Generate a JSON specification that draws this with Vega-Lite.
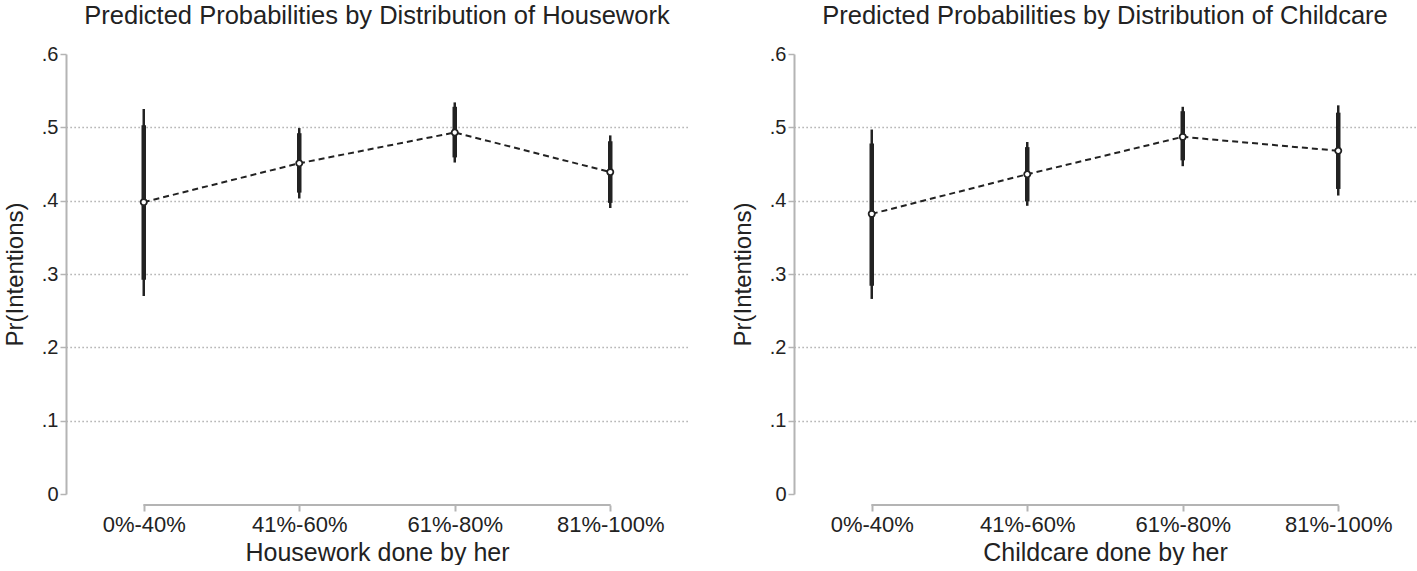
{
  "$schema": "https://vega.github.io/schema/vega-lite/v6.json",
  "padding": {"left": 3, "top": 3, "right": 0, "bottom": 0},
  "spacing": 43,
  "background": "white",
  "config": {
    "font": "Liberation Sans",
    "view": {"stroke": null},
    "axis": {"labelColor": "#222222", "titleColor": "#222222", "titleFontWeight": "normal", "labelFont": "Liberation Sans", "titleFont": "Liberation Sans"}
  },
  "datasets": {
    "housework": [
      {"cat": "0%-40%", "est": 0.398, "lo95": 0.270, "hi95": 0.525, "lo90": 0.292, "hi90": 0.503},
      {"cat": "41%-60%", "est": 0.451, "lo95": 0.403, "hi95": 0.499, "lo90": 0.411, "hi90": 0.492},
      {"cat": "61%-80%", "est": 0.493, "lo95": 0.452, "hi95": 0.534, "lo90": 0.459, "hi90": 0.528},
      {"cat": "81%-100%", "est": 0.439, "lo95": 0.390, "hi95": 0.489, "lo90": 0.397, "hi90": 0.481}
    ],
    "childcare": [
      {"cat": "0%-40%", "est": 0.382, "lo95": 0.266, "hi95": 0.497, "lo90": 0.284, "hi90": 0.478},
      {"cat": "41%-60%", "est": 0.436, "lo95": 0.393, "hi95": 0.480, "lo90": 0.399, "hi90": 0.473},
      {"cat": "61%-80%", "est": 0.487, "lo95": 0.447, "hi95": 0.528, "lo90": 0.455, "hi90": 0.522},
      {"cat": "81%-100%", "est": 0.468, "lo95": 0.407, "hi95": 0.530, "lo90": 0.416, "hi90": 0.520}
    ]
  },
  "hconcat": [
    {
      "width": 622,
      "height": 440,
      "title": {"text": "Predicted Probabilities by Distribution of Housework", "fontSize": 25.5, "fontWeight": "normal", "color": "#222222", "frame": "group", "anchor": "middle", "offset": 15},
      "data": {"name": "housework"},
      "layer": [
        {
          "mark": {"type": "rule", "strokeWidth": 2.5, "color": "#222222"},
          "encoding": {
            "x": {"field": "cat", "type": "ordinal", "sort": null, "scale": {"type": "point", "padding": 0.5},
              "axis": {"title": "Housework done by her", "titleFontSize": 25, "titlePadding": 5, "labelFontSize": 22, "labelAngle": 0, "labelPadding": 3, "offset": 11, "domain": false, "ticks": true, "tickSize": 6, "tickWidth": 2, "tickColor": "#b4b4b4", "grid": false}},
            "y": {"field": "lo95", "type": "quantitative", "scale": {"domain": [0, 0.6], "nice": false, "zero": true},
              "axis": {"title": "Pr(Intentions)", "titleFontSize": 24, "titlePadding": 14, "labelFontSize": 20, "labelPadding": 2, "values": [0, 0.1, 0.2, 0.3, 0.4, 0.5, 0.6], "labelExpr": "datum.value == 0 ? '0' : replace(format(datum.value, '.1f'), '0.', '.')", "domainColor": "#b4b4b4", "domainWidth": 2, "tickColor": "#b4b4b4", "tickSize": 6, "tickWidth": 1.5, "grid": true, "gridColor": "#9a9a9a", "gridWidth": 1.3, "gridDash": [1.2, 2.8], "gridOpacity": {"condition": {"test": "datum.value == 0 || datum.value == 0.6", "value": 0}, "value": 1}}},
            "y2": {"field": "hi95"}
          }
        },
        {
          "mark": {"type": "rule", "strokeWidth": 4.5, "color": "#222222"},
          "encoding": {
            "x": {"field": "cat", "type": "ordinal", "sort": null},
            "y": {"field": "lo90", "type": "quantitative"},
            "y2": {"field": "hi90"}
          }
        },
        {
          "mark": {"type": "line", "strokeWidth": 2, "strokeDash": [6, 4], "color": "#222222"},
          "encoding": {
            "x": {"field": "cat", "type": "ordinal", "sort": null},
            "y": {"field": "est", "type": "quantitative"}
          }
        },
        {
          "mark": {"type": "point", "shape": "circle", "filled": true, "fill": "white", "stroke": "#222222", "strokeWidth": 1.8, "size": 38, "opacity": 1},
          "encoding": {
            "x": {"field": "cat", "type": "ordinal", "sort": null},
            "y": {"field": "est", "type": "quantitative"}
          }
        },
        {
          "mark": {"type": "rule", "strokeWidth": 2, "color": "#b4b4b4"},
          "encoding": {
            "x": {"datum": "0%-40%", "type": "ordinal"},
            "x2": {"datum": "81%-100%"},
            "y": {"datum": -0.015, "type": "quantitative"}
          }
        }
      ]
    },
    {
      "width": 622,
      "height": 440,
      "title": {"text": "Predicted Probabilities by Distribution of Childcare", "fontSize": 25.5, "fontWeight": "normal", "color": "#222222", "frame": "group", "anchor": "middle", "offset": 15},
      "data": {"name": "childcare"},
      "layer": [
        {
          "mark": {"type": "rule", "strokeWidth": 2.5, "color": "#222222"},
          "encoding": {
            "x": {"field": "cat", "type": "ordinal", "sort": null, "scale": {"type": "point", "padding": 0.5},
              "axis": {"title": "Childcare done by her", "titleFontSize": 25, "titlePadding": 5, "labelFontSize": 22, "labelAngle": 0, "labelPadding": 3, "offset": 11, "domain": false, "ticks": true, "tickSize": 6, "tickWidth": 2, "tickColor": "#b4b4b4", "grid": false}},
            "y": {"field": "lo95", "type": "quantitative", "scale": {"domain": [0, 0.6], "nice": false, "zero": true},
              "axis": {"title": "Pr(Intentions)", "titleFontSize": 24, "titlePadding": 14, "labelFontSize": 20, "labelPadding": 2, "values": [0, 0.1, 0.2, 0.3, 0.4, 0.5, 0.6], "labelExpr": "datum.value == 0 ? '0' : replace(format(datum.value, '.1f'), '0.', '.')", "domainColor": "#b4b4b4", "domainWidth": 2, "tickColor": "#b4b4b4", "tickSize": 6, "tickWidth": 1.5, "grid": true, "gridColor": "#9a9a9a", "gridWidth": 1.3, "gridDash": [1.2, 2.8], "gridOpacity": {"condition": {"test": "datum.value == 0 || datum.value == 0.6", "value": 0}, "value": 1}}},
            "y2": {"field": "hi95"}
          }
        },
        {
          "mark": {"type": "rule", "strokeWidth": 4.5, "color": "#222222"},
          "encoding": {
            "x": {"field": "cat", "type": "ordinal", "sort": null},
            "y": {"field": "lo90", "type": "quantitative"},
            "y2": {"field": "hi90"}
          }
        },
        {
          "mark": {"type": "line", "strokeWidth": 2, "strokeDash": [6, 4], "color": "#222222"},
          "encoding": {
            "x": {"field": "cat", "type": "ordinal", "sort": null},
            "y": {"field": "est", "type": "quantitative"}
          }
        },
        {
          "mark": {"type": "point", "shape": "circle", "filled": true, "fill": "white", "stroke": "#222222", "strokeWidth": 1.8, "size": 38, "opacity": 1},
          "encoding": {
            "x": {"field": "cat", "type": "ordinal", "sort": null},
            "y": {"field": "est", "type": "quantitative"}
          }
        },
        {
          "mark": {"type": "rule", "strokeWidth": 2, "color": "#b4b4b4"},
          "encoding": {
            "x": {"datum": "0%-40%", "type": "ordinal"},
            "x2": {"datum": "81%-100%"},
            "y": {"datum": -0.015, "type": "quantitative"}
          }
        }
      ]
    }
  ]
}
